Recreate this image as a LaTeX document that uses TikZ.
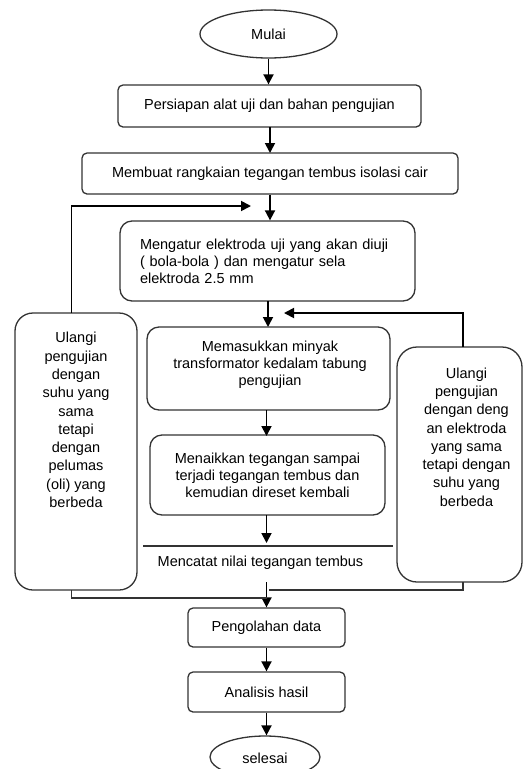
\documentclass[tikz,border=0pt]{standalone}
\usepackage{fontspec}
\setmainfont{Liberation Sans}
\usetikzlibrary{arrows.meta,shapes.geometric}
\tikzset{
  boxline/.style={draw=black!80, line width=1.3pt},
  pbox/.style={boxline, rectangle, rounded corners=5pt, inner sep=0pt, align=center},
  rbox/.style={boxline, rectangle, rounded corners=12pt, inner sep=0pt, align=center},
  sbox/.style={boxline, rectangle, rounded corners=20pt, inner sep=0pt},
  term/.style={boxline, ellipse, inner sep=0pt},
  txt/.style={font=\fontsize{14.5}{17}\selectfont},
  stxt/.style={font=\fontsize{14.5}{18.3}\selectfont, align=center, inner sep=0pt},
  arr/.style={draw=black, line width=1.8pt, -{Triangle[length=10pt,width=10pt]}},
  ln/.style={draw=black!80, line width=1.5pt},
}
\begin{document}
\begin{tikzpicture}[x=1pt,y=-1pt,txt]
\useasboundingbox (0,0) rectangle (523,769);
\begin{scope}
\clip (0,0) rectangle (523,769);
\node[term, minimum width=137pt, minimum height=48pt] (mulai) at (268.5,34) {Mulai};
\node[pbox, minimum width=303pt, minimum height=42pt] (b1) at (269.5,106) {Persiapan alat uji dan bahan pengujian};
\node[pbox, minimum width=376pt, minimum height=41pt] (b2) at (270,173.5) {Membuat rangkaian tegangan tembus isolasi cair};
\node[rbox, minimum width=295pt, minimum height=80pt, align=left, text width=255pt] (b3) at (267.5,261) {Mengatur elektroda uji yang akan diuji\\( bola-bola ) dan mengatur sela\\elektroda 2.5 mm};
\node[rbox, minimum width=243pt, minimum height=83pt] (b4) at (268.5,368.5) {};
\node (t4) at (270,365) [align=center, inner sep=0pt] {Memasukkan minyak\\transformator kedalam tabung\\pengujian};
\node[rbox, minimum width=235pt, minimum height=80pt] (b5) at (267.5,475) {Menaikkan tegangan sampai\\terjadi tegangan tembus dan\\kemudian direset kembali};
\node[sbox, rounded corners=18pt, minimum width=122pt, minimum height=277pt] (lb) at (76,451.5) {};
\node[stxt] (lt) at (76,420) {Ulangi\\pengujian\\dengan\\suhu yang\\sama\\tetapi\\dengan\\pelumas\\(oli) yang\\berbeda};
\node[sbox, minimum width=125pt, minimum height=235pt] (rb) at (459.5,464.5) {};
\node[stxt] (rt) at (466.5,437) {Ulangi\\pengujian\\dengan deng\\an elektroda\\yang sama\\tetapi dengan\\suhu yang\\berbeda};
\coordinate (mla) at (143,546);
\coordinate (mlb) at (393,546);
\draw[ln] (mla) -- (mlb);
\node[inner sep=0pt] (mc) at (260.5,563) {Mencatat nilai tegangan tembus};
\node[pbox, minimum width=157pt, minimum height=39pt] (b6) at (266.5,627.5) {Pengolahan data};
\node[pbox, minimum width=157pt, minimum height=40pt] (b7) at (266.5,692) {Analisis hasil};
\node[term, minimum width=110pt, minimum height=42pt] (sel) at (265,757) {};
\node[inner sep=0pt] (selt) at (265,758) {selesai};
% connectors
\draw[arr] (mulai.south) -- (mulai.south |- b1.north);
\draw[arr] (270,127) -- (270,153);
\draw[arr] (b2.south) -- (b2.south |- b3.north);
\coordinate (lin) at (251,206);
\coordinate (ltop) at (71.5,313);
\draw[arr] (ltop) |- (lin);
\draw[arr] (268,301) -- (268,327);
\coordinate (rin) at (284,313);
\coordinate (rtop) at (463,347);
\draw[arr] (rtop) |- (rin);
\draw[arr] (266.5,410) -- (266.5,436);
\coordinate (m1) at (266.5,543);
\draw[arr] (266.5,515) -- (m1);
\coordinate (m2) at (266.5,582);
\draw[arr] (m2) -- (m2 |- b6.north);
\coordinate (lbot) at (71.5,590);
\coordinate (ljoin) at (266.5,598);
\draw[ln] (lbot) |- (ljoin);
\coordinate (rbot) at (463,582);
\coordinate (rjoin) at (269,590);
\draw[ln] (rbot) |- (rjoin);
\draw[arr] (b6.south) -- (b7.north);
\draw[arr] (b7.south) -- (b7.south |- sel.north);
\end{scope}
\end{tikzpicture}
\end{document}
